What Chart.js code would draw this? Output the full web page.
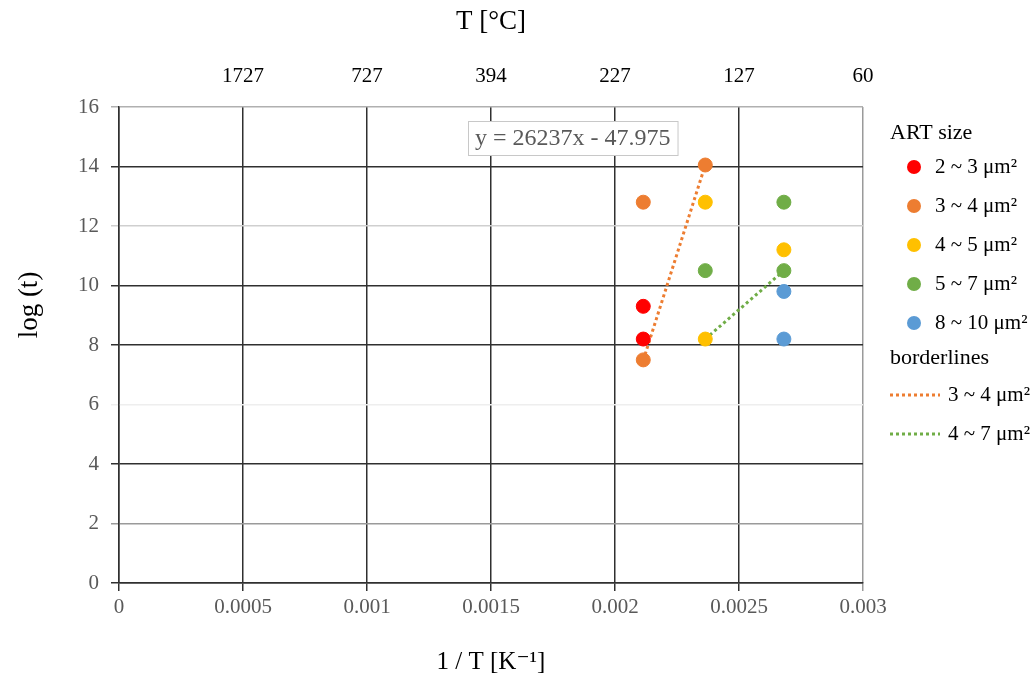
<!DOCTYPE html>
<html>
<head>
<meta charset="utf-8">
<script src="https://cdn.jsdelivr.net/npm/chart.js@4/dist/chart.umd.min.js"></script>
<style>
  html, body { margin: 0; padding: 0; background: #ffffff; }
  #wrap { width: 1036px; height: 689px; position: relative; }
</style>
</head>
<body>
<div id="wrap"><canvas id="ArtChart" width="1036" height="689"></canvas></div>
<script>
/* series: x = 1/T [1/K], y = log(t) */
const redX = [0.002114, 0.002114];
const redY = [9.3, 8.2];
const orangeX = [0.002114, 0.002114, 0.002364];
const orangeY = [12.8, 7.5, 14.05];
const yellowX = [0.002364, 0.002364, 0.002681];
const yellowY = [12.8, 8.2, 11.2];
const greenX = [0.002364, 0.002681, 0.002681];
const greenY = [10.5, 12.8, 10.5];
const blueX = [0.002681, 0.002681];
const blueY = [9.8, 8.2];

/* borderlines */
const line34X = [0.002114, 0.002364];
const line34Y = [7.49, 14.05];
const line47X = [0.002364, 0.002681];
const line47Y = [8.2, 10.5];

const sizeLabels = ['2 ~ 3 μm²', '3 ~ 4 μm²', '4 ~ 5 μm²', '5 ~ 7 μm²', '8 ~ 10 μm²'];
const lineLabels = ['3 ~ 4 μm²', '4 ~ 7 μm²'];
const equationText = 'y = 26237x - 47.975';

const yTicks = [0, 2, 4, 6, 8, 10, 12, 14, 16];
const xTicks = [0, 0.0005, 0.001, 0.0015, 0.002, 0.0025, 0.003];

const colors = ['#FF0000', '#ED7D31', '#FFC000', '#70AD47', '#5B9BD5'];

function toPoints(xs, ys) {
    return xs.map((x, i) => ({x: x, y: ys[i]}));
}

//gridline shades as they appear in the picture
const yGridColor = ['#303030', '#9a9a9a', '#303030', '#eeeeee', '#303030', '#303030', '#cfcfcf', '#303030', '#b0b0b0'];
const xGridColor = ['#303030', '#303030', '#303030', '#303030', '#303030', '#303030', '#9a9a9a'];

const serif = "'Liberation Serif', 'DejaVu Serif', serif";

const pointSets = [redX, orangeX, yellowX, greenX, blueX].map((xs, i) => {
    const ys = [redY, orangeY, yellowY, greenY, blueY][i];
    return {
        label: sizeLabels[i],
        data: toPoints(xs, ys),
        backgroundColor: colors[i],
        borderColor: colors[i],
        pointRadius: 7,
        showLine: false
    };
});

const lineSets = [
    {label: lineLabels[0], data: toPoints(line34X, line34Y), borderColor: colors[1]},
    {label: lineLabels[1], data: toPoints(line47X, line47Y), borderColor: colors[3]}
].map(d => Object.assign(d, {
    showLine: true,
    borderWidth: 3,
    borderDash: [3, 3],
    pointRadius: 0
}));

//y title, legend and equation box drawn on the canvas
const extras = {
    id: 'extras',
    afterDraw(chart) {
        const ctx = chart.ctx;
        const area = chart.chartArea;
        ctx.save();

        // y axis title
        ctx.save();
        ctx.translate(30, area.top + 198);
        ctx.rotate(-Math.PI / 2);
        ctx.font = '27px ' + serif;
        ctx.fillStyle = '#000000';
        ctx.textAlign = 'center';
        ctx.textBaseline = 'middle';
        ctx.fillText('log (t)', 0, 0);
        ctx.restore();

        // equation box
        ctx.font = '24px ' + serif;
        const tw = ctx.measureText(equationText).width;
        const bx = area.left + 349, by = area.top + 14;
        ctx.fillStyle = '#ffffff';
        ctx.fillRect(bx, by, tw + 14, 34);
        ctx.strokeStyle = '#c8c8c8';
        ctx.lineWidth = 1;
        ctx.strokeRect(bx + 0.5, by + 0.5, tw + 14, 34);
        ctx.fillStyle = '#595959';
        ctx.textBaseline = 'middle';
        ctx.fillText(equationText, bx + 7, by + 18);

        // legend
        const lx = area.right + 27;
        let ly = area.top + 26;
        ctx.fillStyle = '#000000';
        ctx.font = '22px ' + serif;
        ctx.fillText('ART size', lx, ly);
        ctx.font = '21px ' + serif;
        ly += 34;
        pointSets.forEach(ds => {
            ctx.beginPath();
            ctx.fillStyle = ds.backgroundColor;
            ctx.arc(lx + 24, ly, 7, 0, Math.PI * 2);
            ctx.fill();
            ctx.fillStyle = '#000000';
            ctx.fillText(ds.label, lx + 45, ly);
            ly += 39;
        });
        ctx.font = '22px ' + serif;
        ctx.fillText('borderlines', lx, ly - 4);
        ctx.font = '21px ' + serif;
        ly += 33;
        lineSets.forEach(ds => {
            ctx.beginPath();
            ctx.strokeStyle = ds.borderColor;
            ctx.lineWidth = 3;
            ctx.setLineDash([3, 3]);
            ctx.moveTo(lx, ly);
            ctx.lineTo(lx + 50, ly);
            ctx.stroke();
            ctx.setLineDash([]);
            ctx.fillStyle = '#000000';
            ctx.fillText(ds.label, lx + 58, ly);
            ly += 39;
        });
        ctx.restore();
    }
};

const canvas = document.getElementById('ArtChart');

let ArtChart = new Chart(canvas, {
    type: 'scatter',
    data: {
        datasets: pointSets.concat(lineSets)
    },
    options: {
        responsive: false,
        animation: false,
        layout: {padding: {left: 0, right: 173, top: 0, bottom: 0}},
        plugins: {
            legend: {display: false},
            tooltip: {enabled: false}
        },
        scales: {
            x: {
                type: 'linear',
                position: 'bottom',
                min: 0,
                max: 0.003,
                afterBuildTicks: (scale) => { scale.ticks = xTicks.map(v => ({value: v})); },
                afterFit: (scale) => { scale.height = 106; },
                grid: {
                    color: (c) => xGridColor[c.index],
                    lineWidth: 1.5,
                    tickLength: 8
                },
                border: {color: '#303030', width: 1.5},
                ticks: {
                    color: '#595959',
                    font: {family: serif, size: 21},
                    padding: 4,
                    maxRotation: 0,
                    callback: (v) => String(v)
                },
                title: {
                    display: true,
                    text: '1 / T [K⁻¹]',
                    color: '#000000',
                    font: {family: serif, size: 25},
                    padding: {top: 0, bottom: 12}
                }
            },
            xTop: {
                type: 'linear',
                position: 'top',
                min: 0,
                max: 0.003,
                afterBuildTicks: (scale) => { scale.ticks = xTicks.map(v => ({value: v})); },
                afterFit: (scale) => { scale.height = 107; },
                grid: {display: false, drawTicks: false},
                border: {display: false},
                ticks: {
                    color: '#000000',
                    font: {family: serif, size: 21},
                    padding: 18,
                    maxRotation: 0,
                    callback: (v) => v === 0 ? '' : String(Math.round(1 / v - 273))
                },
                title: {
                    display: true,
                    text: 'T [°C]',
                    color: '#000000',
                    font: {family: serif, size: 27},
                    padding: {top: 6, bottom: 0}
                }
            },
            y: {
                type: 'linear',
                min: 0,
                max: 16,
                afterBuildTicks: (scale) => { scale.ticks = yTicks.map(v => ({value: v})); },
                afterFit: (scale) => { scale.width = 119; },
                grid: {
                    color: (c) => yGridColor[c.index],
                    lineWidth: 1.5,
                    tickLength: 8
                },
                border: {color: '#303030', width: 1.5},
                ticks: {
                    color: '#595959',
                    font: {family: serif, size: 21},
                    padding: 12
                },
                title: {display: false}
            }
        }
    },
    plugins: [extras]
});
</script>
</body>
</html>
